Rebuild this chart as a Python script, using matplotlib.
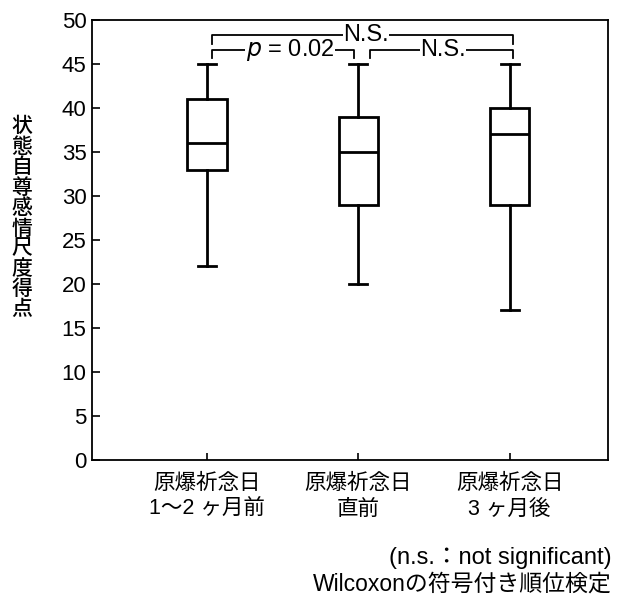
import matplotlib.pyplot as plt

plt.rcParams['font.family'] = ['Liberation Sans', 'Noto Sans CJK JP']

# data
categories = ['原爆祈念日\n1〜2 ヶ月前', '原爆祈念日\n直前', '原爆祈念日\n3 ヶ月後']
whislo = [22, 20, 17]
q1 = [33, 29, 29]
med = [36, 35, 37]
q3 = [41, 39, 40]
whishi = [45, 45, 45]
ylabel = '状態自尊感情尺度得点'

stats = []
for i in range(len(categories)):
    stats.append({'whislo': whislo[i], 'q1': q1[i], 'med': med[i],
                  'q3': q3[i], 'whishi': whishi[i], 'fliers': []})

fig = plt.figure(figsize=(6.3, 5.97), dpi=100)
ax = fig.add_axes([0.146, 0.2295, 0.819, 0.737])

lw = 2.0
ax.bxp(stats, positions=[1, 2, 3], widths=0.26, capwidths=0.12,
       showfliers=False, patch_artist=True,
       boxprops=dict(facecolor='white', edgecolor='black', linewidth=lw),
       medianprops=dict(color='black', linewidth=lw),
       whiskerprops=dict(color='black', linewidth=lw),
       capprops=dict(color='black', linewidth=lw))

ax.set_xlim(0.24, 3.65)
ax.set_ylim(0, 50)
ax.set_yticks(range(0, 51, 5))
ax.set_xticks([1, 2, 3])
ax.set_xticklabels(categories, fontsize=15.5, linespacing=1.35)
ax.tick_params(axis='y', labelsize=16, direction='in', length=6, width=1.2, pad=4)
ax.tick_params(axis='x', direction='in', length=5, width=1.2, pad=9)
for s in ax.spines.values():
    s.set_linewidth(1.3)

# significance brackets
def bracket(x0, x1, y, h, label, lx):
    ax.plot([x0, x0, x1, x1], [y - h, y, y, y - h], color='black', lw=1.3,
            clip_on=False)
    ax.text(lx, y, label, ha='center', va='center', fontsize=17,
            bbox=dict(facecolor='white', edgecolor='none', pad=0.3))

bracket(1.03, 3.02, 48.3, 1.0, 'N.S.', 2.05)
bracket(1.03, 1.97, 46.6, 0.9, '$p$ = 0.02', 1.55)
bracket(2.08, 3.02, 46.6, 0.9, 'N.S.', 2.56)

fig.text(22 / 630, 1 - 218 / 597, '\n'.join(ylabel), ha='center', va='center',
         fontsize=15, linespacing=1.05, fontweight='medium')

fig.text(612 / 630, 1 - 558 / 597, '(n.s.：not significant)', ha='right',
         va='center', fontsize=17)
fig.text(612 / 630, 1 - 584 / 597, 'Wilcoxonの符号付き順位検定', ha='right',
         va='center', fontsize=16.5)

fig.savefig('out.png', dpi=100)
